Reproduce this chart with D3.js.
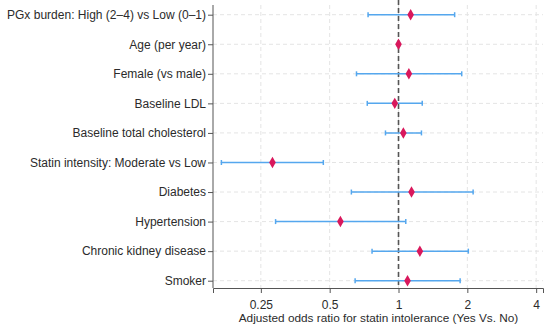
<!DOCTYPE html>
<html>
<head>
<meta charset="utf-8">
<script src="https://cdn.jsdelivr.net/npm/d3@7"></script>
<style>
  body { margin: 0; background: #fff; }
  svg { font-family: "Liberation Sans", Arial, sans-serif; }
  .grid line { stroke: #e4e4e4; stroke-dasharray: 4,3; }
  .axis path, .axis line { stroke: #555; }
  .axis text { fill: #2b2b2b; }
</style>
</head>
<body>
<div class="container"></div>
<script>
const WIDTH = 550;
const HEIGHT = 334;
const LEFT = 213;
const RIGHT = 543;
const TOP = 5;
const BOTTOM = 288;

var labels = [
  "PGx burden: High (2\u20134) vs Low (0\u20131)",
  "Age (per year)",
  "Female (vs male)",
  "Baseline LDL",
  "Baseline total cholesterol",
  "Statin intensity: Moderate vs Low",
  "Diabetes",
  "Hypertension",
  "Chronic kidney disease",
  "Smoker"
];
var oddsRatio = [1.13, 1.0, 1.11, 0.963, 1.05, 0.281, 1.14, 0.557, 1.24, 1.095];
var ciLow = [0.736, 0.99, 0.655, 0.73, 0.877, 0.168, 0.622, 0.29, 0.766, 0.646];
var ciHigh = [1.76, 1.01, 1.89, 1.27, 1.26, 0.469, 2.12, 1.076, 2.02, 1.86];
var xTicks = [0.25, 0.5, 1, 2, 4];

var translate = function(x, y) {
  return `translate(${x},${y})`;
};

var svg = d3.select('.container').append('svg')
  .attr('width', WIDTH)
  .attr('height', HEIGHT);

// log2 scale: 1 at x ~ 398.7, one doubling ~ 68.7px
var xScale = d3.scaleLog().base(2)
  .domain([0.1544, 4.285])
  .range([LEFT, RIGHT]);

var yScale = d3.scalePoint()
  .domain(labels)
  .range([14.7, 280.7]);

// gridlines
var grid = svg.append('g').classed('grid', true);
grid.selectAll('.vg').data(xTicks).enter()
  .append('line')
  .attr('x1', (d) => xScale(d)).attr('x2', (d) => xScale(d))
  .attr('y1', TOP).attr('y2', BOTTOM);
grid.selectAll('.hg').data(labels).enter()
  .append('line')
  .attr('x1', LEFT).attr('x2', RIGHT)
  .attr('y1', (d) => yScale(d)).attr('y2', (d) => yScale(d));

// reference line at 1
svg.append('line')
  .attr('x1', xScale(1)).attr('x2', xScale(1))
  .attr('y1', 0).attr('y2', BOTTOM)
  .attr('stroke', '#555')
  .attr('stroke-width', 1.6)
  .attr('stroke-dasharray', '5,3');

// axes
var xAxis = d3.axisBottom(xScale).tickValues(xTicks).tickFormat((d) => d).tickSizeOuter(0).tickSize(5);
var yAxis = d3.axisLeft(yScale).tickSizeOuter(0).tickSize(5);

svg.append('g')
  .classed('axis', true)
  .attr('transform', translate(0, BOTTOM))
  .call(xAxis)
  .call((g) => g.selectAll('text').attr('dy', '1.1em').style('font-size', '12px'));

svg.append('g')
  .classed('axis', true)
  .attr('transform', translate(LEFT, 0))
  .call(yAxis)
  .call((g) => g.select('.domain').attr('d', `M0,${TOP}V${BOTTOM}`))
  .call((g) => g.selectAll('text').attr('x', -7).style('font-size', '12px'))
  .call((g) => g.selectAll('text').filter((d, i) => i === 0).attr('textLength', 199).attr('lengthAdjust', 'spacingAndGlyphs'));

// confidence intervals
var rows = labels.map((l, i) => ({ label: l, or: oddsRatio[i], lo: ciLow[i], hi: ciHigh[i] }));
var ci = svg.append('g');
ci.selectAll('.ci').data(rows).enter()
  .append('line')
  .attr('x1', (d) => xScale(d.lo)).attr('x2', (d) => xScale(d.hi))
  .attr('y1', (d) => yScale(d.label)).attr('y2', (d) => yScale(d.label))
  .attr('stroke', '#55a7ee').attr('stroke-width', 1.5);
['lo', 'hi'].forEach(function(k) {
  ci.selectAll('.cap-' + k).data(rows).enter()
    .append('line')
    .attr('x1', (d) => xScale(d[k])).attr('x2', (d) => xScale(d[k]))
    .attr('y1', (d) => yScale(d.label) - 2.5).attr('y2', (d) => yScale(d.label) + 2.5)
    .attr('stroke', '#55a7ee').attr('stroke-width', 1.5);
});

// point estimates
svg.append('g').selectAll('path').data(rows).enter()
  .append('path')
  .attr('d', d3.symbol().type(d3.symbolDiamond).size(38))
  .attr('transform', (d) => translate(xScale(d.or), yScale(d.label)))
  .attr('fill', '#d9185c');

// axis title
svg.append('text')
  .attr('x', 378.5).attr('y', 322)
  .attr('text-anchor', 'middle')
  .attr('fill', '#2b2b2b')
  .style('font-size', '11.8px')
  .text('Adjusted odds ratio for statin intolerance (Yes Vs. No)');
</script>
</body>
</html>
